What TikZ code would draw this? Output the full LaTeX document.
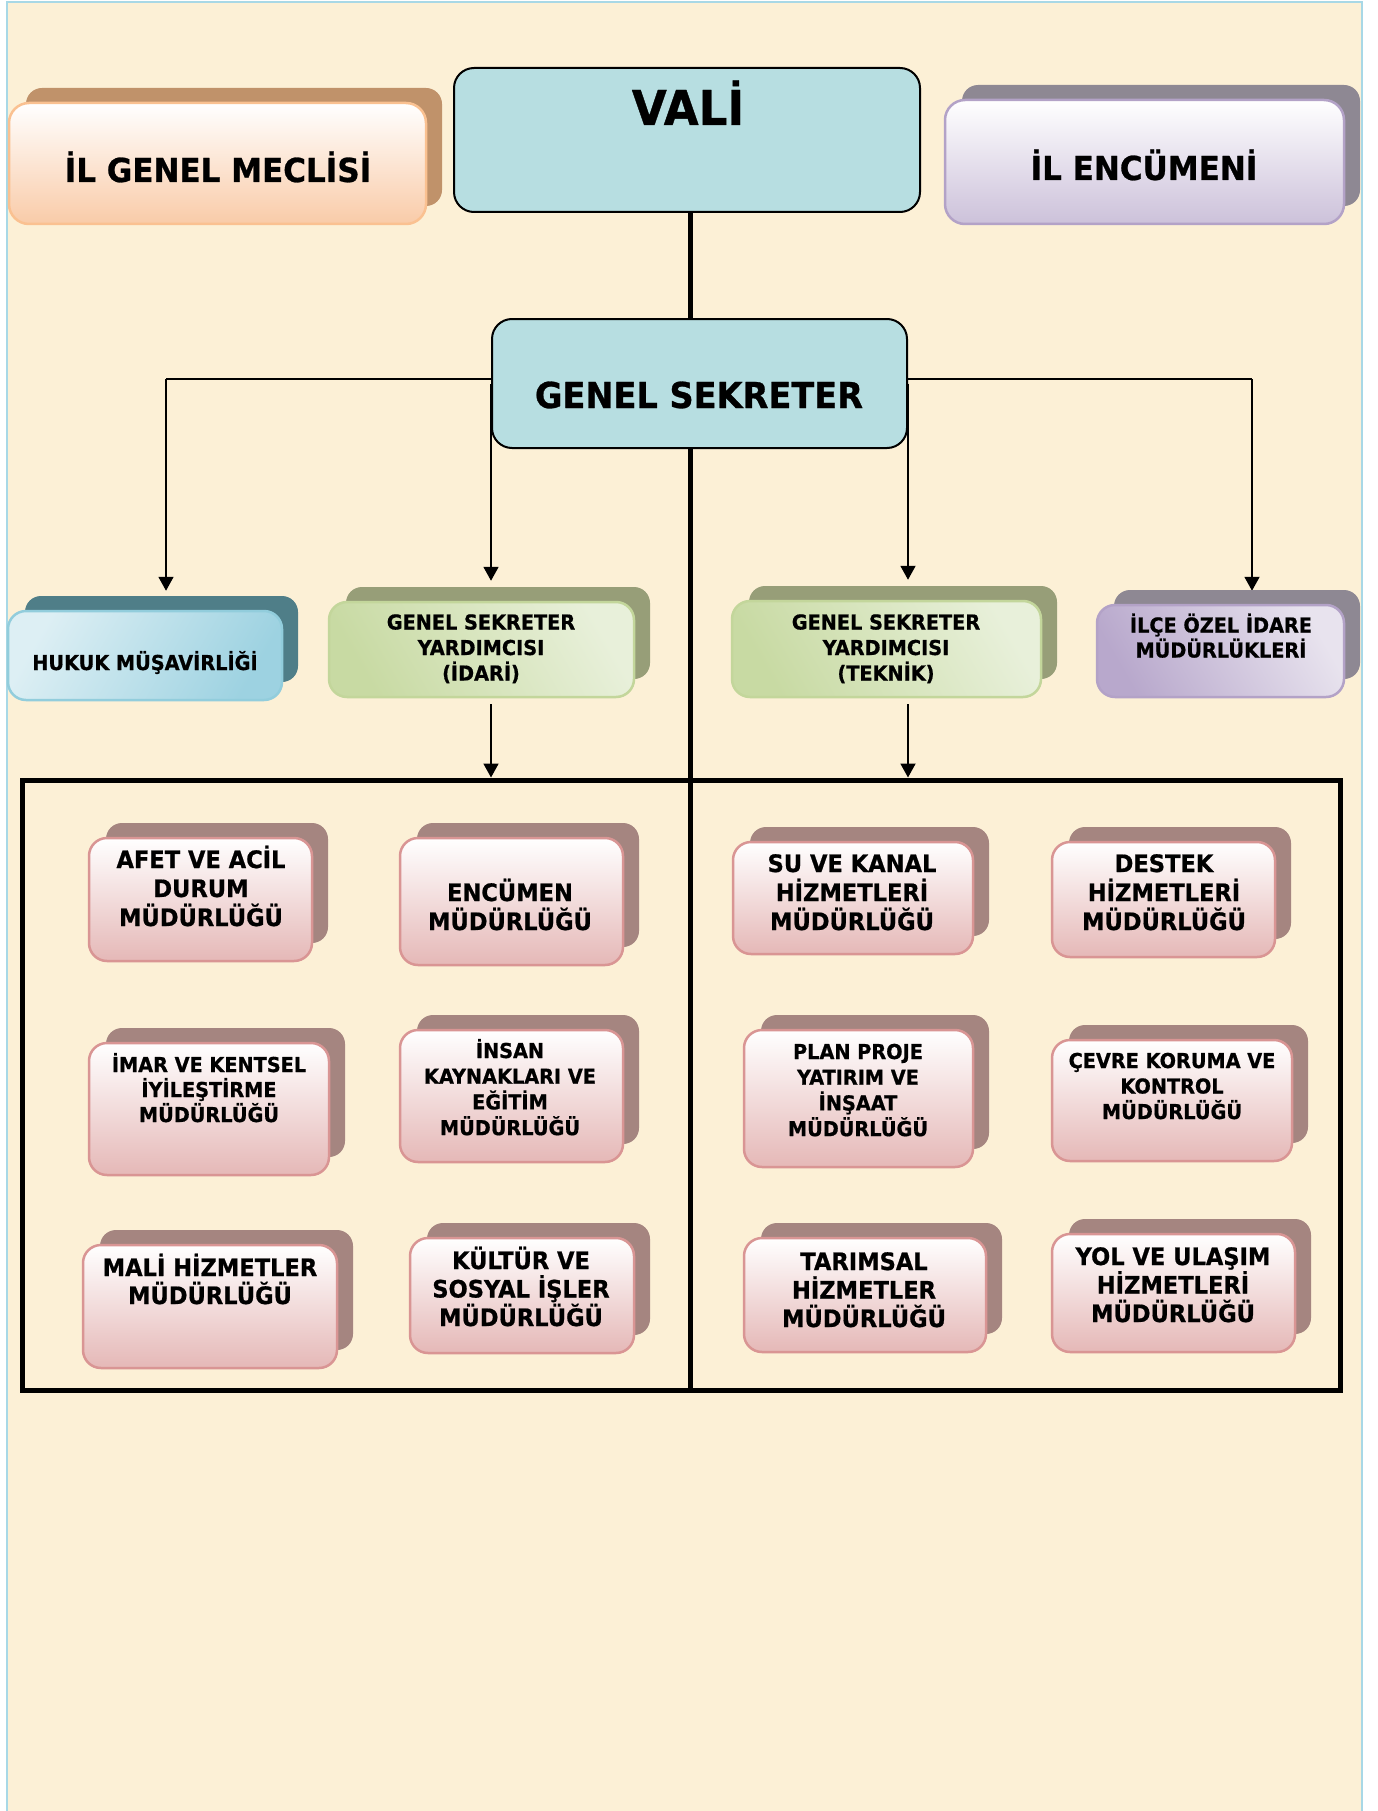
\documentclass[tikz,border=0pt]{standalone}
\usepackage{fontspec}
\newfontfamily\tf[FakeStretch=0.94,FakeBold=0.8]{DejaVu Sans}
\usetikzlibrary{arrows.meta,calc}
\pgfdeclarelayer{back}
\pgfdeclarelayer{mid}
\pgfsetlayers{back,mid,main}
\definecolor{bg}{HTML}{FCF0D6}
\definecolor{pageedge}{HTML}{A8D8E6}
\definecolor{vfill}{HTML}{B7DEE1}
\definecolor{peachB}{HTML}{F9CBA8}
\definecolor{peachD}{HTML}{FAC191}
\definecolor{peachS}{HTML}{C0926A}
\definecolor{purpB}{HTML}{CCC1DA}
\definecolor{purpD}{HTML}{B3A2C7}
\definecolor{purpS}{HTML}{8E8893}
\definecolor{hukL}{HTML}{DDEFF4}
\definecolor{hukK}{HTML}{9DD2E1}
\definecolor{hukD}{HTML}{92CDDC}
\definecolor{hukS}{HTML}{4F7E88}
\definecolor{grnL}{HTML}{E8F0DA}
\definecolor{grnK}{HTML}{C8DAA3}
\definecolor{grnD}{HTML}{C3D69B}
\definecolor{grnS}{HTML}{979E78}
\definecolor{ilcL}{HTML}{E8E3EE}
\definecolor{ilcK}{HTML}{B8A8CC}
\definecolor{pinkB}{HTML}{E5B8B7}
\definecolor{pinkD}{HTML}{D99594}
\definecolor{pinkS}{HTML}{A58580}
\tikzset{
  vbox/.style={draw=black,line width=2pt,fill=vfill,rounded corners=20pt,inner sep=0pt},
  peachbox/.style={draw=peachD,line width=2.5pt,top color=white,bottom color=peachB,rounded corners=20pt,inner sep=0pt},
  peachsh/.style={fill=peachS},
  purpbox/.style={draw=purpD,line width=2.5pt,top color=white,bottom color=purpB,rounded corners=20pt,inner sep=0pt},
  purpsh/.style={fill=purpS},
  hukbox/.style={draw=hukD,line width=2.5pt,left color=hukL,right color=hukK,shading angle=60,rounded corners=18pt,inner sep=0pt},
  huksh/.style={fill=hukS},
  grnbox/.style={draw=grnD,line width=2.5pt,left color=grnK,right color=grnL,shading angle=120,rounded corners=18pt,inner sep=0pt},
  grnsh/.style={fill=grnS},
  ilcbox/.style={draw=purpD,line width=2.5pt,left color=ilcK,right color=ilcL,shading angle=120,rounded corners=18pt,inner sep=0pt},
  ilcsh/.style={fill=purpS},
  pinkbox/.style={draw=pinkD,line width=2.5pt,top color=white,bottom color=pinkB,rounded corners=18pt,inner sep=0pt},
  pinksh/.style={fill=pinkS},
  conn/.style={line width=1.8pt,draw=black},
  arr/.style={conn,-{Triangle[length=14pt,width=15pt]}},
  thickl/.style={line width=5pt,draw=black},
  framebox/.style={draw=black,line width=5pt,inner sep=0pt},
  txt/.style={anchor=base,inner sep=0pt,text=black},
  ftbig/.style={font=\tf\bfseries\fontsize{48}{52}\selectfont},
  ftgs/.style={font=\tf\bfseries\fontsize{35.7}{40}\selectfont},
  fthead/.style={font=\tf\bfseries\fontsize{33}{38}\selectfont},
  ftmid/.style={font=\tf\bfseries\fontsize{20.5}{25}\selectfont},
  ftmud/.style={font=\tf\bfseries\fontsize{24}{28}\selectfont},
  ftsml/.style={font=\tf\bfseries\fontsize{20.5}{24}\selectfont},
}
\newcommand\card[6]{%
  \fill[#2sh,rounded corners=16pt] ({#3+17},{#4-15}) rectangle ({#5+16},{#6-18});
  \node[#2box,minimum width={#5-#3},minimum height={#6-#4}] (#1) at ({(#3+#5)/2},{(#4+#6)/2}) {};
}
\newcommand\tlines[6]{%
  \foreach \tl [count=\i] in {#6}{\node[txt,#2] (#1-\i) at (#3,{#4+(\i-1)*#5}) {\tl};}%
}
\begin{document}
\begin{tikzpicture}[x=1pt,y=-1pt]
\useasboundingbox (0,0) rectangle (1377,1811);
\begin{pgfonlayer}{back}
\fill[white] (0,0) rectangle (1377,1811);
\fill[bg] (7,2) rectangle (1362,1811);
\draw[pageedge,line width=1.2pt] (7,1811) -- (7,2) -- (1362,2) -- (1362,1811);
\end{pgfonlayer}

% top row
\card{igm}{peach}{9}{103}{426}{224}
\node[vbox,minimum width=466,minimum height=144] (vali) at (687,140) {};
\card{ile}{purp}{945}{100}{1344}{224}
\node[vbox,minimum width=415,minimum height=129] (gs) at (699.5,383.5) {};

% second row
\card{huk}{huk}{8}{611}{282}{700}
\card{gsyi}{grn}{329}{602}{634}{697}
\card{gsyt}{grn}{732}{601}{1041}{697}
\card{ilce}{ilc}{1097}{605}{1344}{697}

% frame
\node[framebox,minimum width=1318,minimum height=610] (frame) at (681,1085) {};

% directorates
\card{afet}{pink}{89}{838}{312}{961}
\card{enc}{pink}{400}{838}{623}{965}
\card{imar}{pink}{89}{1043}{329}{1175}
\card{insan}{pink}{400}{1030}{623}{1162}
\card{mali}{pink}{83}{1245}{337}{1368}
\card{kultur}{pink}{410}{1238}{634}{1353}
\card{su}{pink}{733}{842}{973}{954}
\card{destek}{pink}{1052}{842}{1275}{957}
\card{plan}{pink}{744}{1030}{973}{1167}
\card{cevre}{pink}{1052}{1040}{1292}{1161}
\card{tarim}{pink}{744}{1238}{986}{1352}
\card{yol}{pink}{1052}{1234}{1295}{1352}

% connectors
\coordinate (spine) at (690,0);
\coordinate (brL) at (166,379);
\coordinate (brR) at (1252,379);
\begin{pgfonlayer}{mid}
\draw[thickl] (vali.south -| spine) -- (gs.north -| spine);
\draw[thickl] (gs.south -| spine) -- (frame.south -| spine);
\draw[conn] (gs.west |- brL) -- (brL);
\draw[arr] (brL) -- ($(brL |- huk.north)+(0,-19)$);
\draw[conn] (gs.east |- brR) -- (brR);
\draw[arr] (brR) -- ($(brR |- ilce.north)+(0,-13)$);
\draw[arr] (gs.west) -- ($(gs.west |- gsyi.north)+(0,-20)$);
\draw[arr] (gs.east) -- ($(gs.east |- gsyt.north)+(0,-20)$);
\draw[arr] ($(gs.west |- gsyi.south)+(0,6)$) -- (gs.west |- frame.north);
\draw[arr] ($(gs.east |- gsyt.south)+(0,6)$) -- (gs.east |- frame.north);
\end{pgfonlayer}

% texts
\tlines{t-vali}{ftbig}{688}{125}{0}{VALİ}
\tlines{t-gs}{ftgs}{699}{408}{0}{GENEL SEKRETER}
\tlines{t-igm}{fthead}{218}{182}{0}{İL GENEL MECLİSİ}
\tlines{t-ile}{fthead}{1144}{180}{0}{İL ENCÜMENİ}
\tlines{t-huk}{ftmid}{145}{670}{0}{HUKUK MÜŞAVİRLİĞİ}
\tlines{t-gsyi}{ftmid}{481}{629.5}{25.5}{GENEL SEKRETER,YARDIMCISI,(İDARİ)}
\tlines{t-gsyt}{ftmid}{886}{629.5}{25.5}{GENEL SEKRETER,YARDIMCISI,(TEKNİK)}
\tlines{t-ilce}{ftmid}{1221}{632.5}{25}{İLÇE ÖZEL İDARE,MÜDÜRLÜKLERİ}
\tlines{t-afet}{ftmud}{201}{868}{29}{AFET VE ACİL,DURUM,MÜDÜRLÜĞÜ}
\tlines{t-enc}{ftmud}{510}{901}{29}{ENCÜMEN,MÜDÜRLÜĞÜ}
\tlines{t-mali}{ftmud}{210}{1276}{28}{MALİ HİZMETLER,MÜDÜRLÜĞÜ}
\tlines{t-kultur}{ftmud}{521}{1269}{28.5}{KÜLTÜR VE,SOSYAL İŞLER,MÜDÜRLÜĞÜ}
\tlines{t-su}{ftmud}{852}{872}{29}{SU VE KANAL,HİZMETLERİ,MÜDÜRLÜĞÜ}
\tlines{t-destek}{ftmud}{1164}{872}{29}{DESTEK,HİZMETLERİ,MÜDÜRLÜĞÜ}
\tlines{t-tarim}{ftmud}{864}{1270}{28.5}{TARIMSAL,HİZMETLER,MÜDÜRLÜĞÜ}
\tlines{t-yol}{ftmud}{1173}{1265}{28.5}{YOL VE ULAŞIM,HİZMETLERİ,MÜDÜRLÜĞÜ}
\tlines{t-imar}{ftsml}{209}{1072}{25}{İMAR VE KENTSEL,İYİLEŞTİRME,MÜDÜRLÜĞÜ}
\tlines{t-insan}{ftsml}{510}{1058}{25.7}{İNSAN,KAYNAKLARI VE,EĞİTİM,MÜDÜRLÜĞÜ}
\tlines{t-plan}{ftsml}{858}{1059}{25.7}{PLAN PROJE,YATIRIM VE,İNŞAAT,MÜDÜRLÜĞÜ}
\tlines{t-cevre}{ftsml}{1172}{1068}{25.5}{ÇEVRE KORUMA VE,KONTROL,MÜDÜRLÜĞÜ}
\end{tikzpicture}
\end{document}
